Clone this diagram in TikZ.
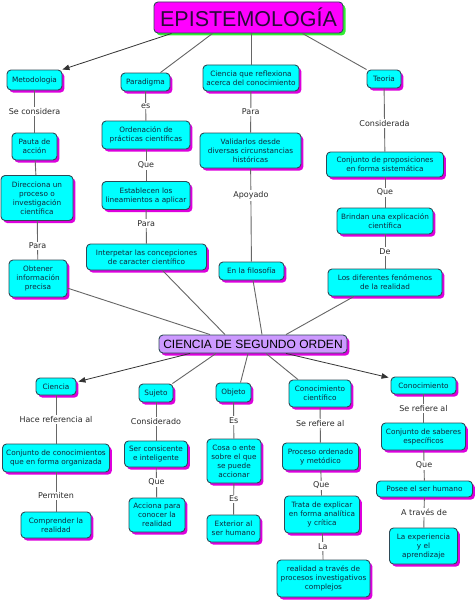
\documentclass[tikz,border=0pt]{standalone}
\usepackage{fontspec}
\setmainfont{DejaVu Sans}
\newfontfamily\headfont{Liberation Sans}
\usetikzlibrary{
  shadows,
  arrows.meta,
}
\definecolor{boxFill}{HTML}{00FFFF}
\definecolor{boxLine}{HTML}{2E4A57}
\definecolor{boxShadow}{HTML}{DD00DD}
\definecolor{boxText}{HTML}{10283C}
\definecolor{headFill}{HTML}{FF00FF}
\definecolor{headShadow}{HTML}{33EE33}
\definecolor{headText}{HTML}{2A0A3A}
\definecolor{orderFill}{HTML}{CC99FF}
\definecolor{lineCol}{HTML}{666666}
\definecolor{arrowCol}{HTML}{333333}
\definecolor{labelCol}{HTML}{2A2A2A}
\tikzset{
  basebox/.style={
    rectangle, rounded corners=4pt, draw=boxLine, fill=boxFill,
    line width=0.9pt, align=center, inner sep=2pt,
    font=\fontsize{7.3}{9}\selectfont, text=boxText,
  },
  conceptbox/.style={
    basebox,
    drop shadow={shadow xshift=2.4pt, shadow yshift=-2.6pt, fill=boxShadow, opacity=1},
  },
  headbox/.style={
    basebox, fill=headFill, text=headText, font=\headfont\fontsize{21.5}{24}\selectfont,
    drop shadow={shadow xshift=2.5pt, shadow yshift=-2.5pt, fill=headShadow, opacity=1},
  },
  orderbox/.style={
    conceptbox, fill=orderFill, text=black, font=\headfont\fontsize{12}{14}\selectfont,
  },
  conn/.style={draw=lineCol, line width=0.9pt},
  arrow/.style={-{Triangle[length=7pt,width=5.5pt]}, arrowCol, line width=0.8pt},
  lbl/.style={fill=white, inner sep=1.2pt, font=\fontsize{8}{9}\selectfont, text=labelCol},
}
\begin{document}
\begin{tikzpicture}[x=1pt, y=-1pt]

  \fill[white] (0,0) rectangle (474,602);
  \useasboundingbox (0,0) rectangle (474,602);

  % Title
  \node[headbox, minimum width=189pt, minimum height=31pt] (epi) at (248.5,17.5) {EPISTEMOLOGÍA};

  % First level
  \node[conceptbox, minimum width=55pt, minimum height=20pt] (meto) at (34.5,80) {Metodologia};
  \node[conceptbox, minimum width=49pt, minimum height=18pt] (para) at (145.5,82) {Paradigma};
  \node[conceptbox, minimum width=96pt, minimum height=26pt] (cien) at (251,78) {Ciencia que reflexiona\\acerca del conocimiento};
  \node[conceptbox, minimum width=34pt, minimum height=18pt] (teor) at (384,79) {Teoria};

  % Metodologia column
  \node[conceptbox, minimum width=45pt, minimum height=27pt] (paut) at (34.5,146.5) {Pauta de\\acción};
  \node[conceptbox, minimum width=72pt, minimum height=45pt] (dire) at (37,198) {Direcciona un\\proceso o\\investigación\\científica};
  \node[conceptbox, minimum width=58pt, minimum height=37pt] (obte) at (38,278.5) {Obtener\\información\\precisa};

  % Paradigma column
  \node[conceptbox, minimum width=88pt, minimum height=28pt] (orde) at (146,135) {Ordenación de\\prácticas científicas};
  \node[conceptbox, minimum width=88pt, minimum height=28pt] (esta) at (146,195.5) {Establecen los\\lineamientos a aplicar};
  \node[conceptbox, minimum width=120pt, minimum height=26pt] (inte) at (146.5,257) {Interpetar las concepciones\\de caracter científico};

  % Ciencia column
  \node[conceptbox, minimum width=101pt, minimum height=35pt] (vali) at (250.5,150.5) {Validarlos desde\\diversas circunstancias\\históricas};
  \node[conceptbox, minimum width=65pt, minimum height=18pt] (filo) at (251.5,271) {En la filosofía};

  % Teoria column
  \node[conceptbox, minimum width=117pt, minimum height=25pt] (conj) at (385,164.5) {Conjunto de proposiciones\\en forma sistemática};
  \node[conceptbox, minimum width=96pt, minimum height=26pt] (brin) at (385,221) {Brindan una explicación\\científica};
  \node[conceptbox, minimum width=114pt, minimum height=27pt] (feno) at (385,282.5) {Los diferentes fenómenos\\de la realidad};

  % Second order
  \node[orderbox, minimum width=188pt, minimum height=18pt] (sego) at (253,344) {CIENCIA DE SEGUNDO ORDEN};

  % Bottom columns
  \node[conceptbox, minimum width=40pt, minimum height=17pt] (cia) at (56,386.5) {Ciencia};
  \node[conceptbox, minimum width=107pt, minimum height=28pt] (cjco) at (56,458) {Conjunto de conocimientos\\que en forma organizada};
  \node[conceptbox, minimum width=70pt, minimum height=26pt] (comp) at (56,525) {Comprender la\\realidad};

  \node[conceptbox, minimum width=34pt, minimum height=18pt] (suje) at (156,393) {Sujeto};
  \node[conceptbox, minimum width=63pt, minimum height=26pt] (seri) at (156,454) {Ser consicente\\e inteligente};
  \node[conceptbox, minimum width=56pt, minimum height=34pt] (acci) at (157,515) {Acciona para\\conocer la\\realidad};

  \node[conceptbox, minimum width=35pt, minimum height=19pt] (obje) at (233.5,392.5) {Objeto};
  \node[conceptbox, minimum width=54pt, minimum height=44pt] (cosa) at (234,461) {Cosa o ente\\sobre el que\\se puede\\accionar};
  \node[conceptbox, minimum width=53pt, minimum height=27pt] (exte) at (233.5,528.5) {Exterior al\\ser humano};

  \node[conceptbox, minimum width=62pt, minimum height=27pt] (ccie) at (320,393.5) {Conocimiento\\científico};
  \node[conceptbox, minimum width=76pt, minimum height=27pt] (proc) at (320.5,456.5) {Proceso ordenado\\y metódico};
  \node[conceptbox, minimum width=75pt, minimum height=37pt] (trat) at (322,514.5) {Trata de explicar\\en forma analítica\\y crítica};
  \node[conceptbox, minimum width=93pt, minimum height=37pt] (real) at (323.5,578.5) {realidad a través de\\procesos investigativos\\complejos};

  \node[conceptbox, minimum width=65pt, minimum height=17pt] (cono) at (423.5,385.5) {Conocimiento};
  \node[conceptbox, minimum width=84pt, minimum height=27pt] (sabe) at (423.5,436.5) {Conjunto de saberes\\específicos};
  \node[conceptbox, minimum width=96pt, minimum height=16pt] (pose) at (424.5,489) {Posee el ser humano};
  \node[conceptbox, minimum width=68pt, minimum height=36pt] (expe) at (423.5,546) {La experiencia\\y el\\aprendizaje};

  % Links from the title
  \draw[arrow] ([xshift=18pt]epi.south west) -- (meto.north east);
  \draw[conn] ([xshift=59pt]epi.south west) -- ([xshift=15pt]para.north);
  \draw[conn] (epi.south -| cien.north) -- (cien.north);
  \draw[conn] ([xshift=-41pt]epi.south east) -- (teor.north west);

  % Vertical links, top half
  \draw[conn] (meto) -- node[lbl] {Se considera} (paut);
  \draw[conn] (paut) -- (dire);
  \draw[conn] (dire) -- node[lbl, pos=0.65] {Para} (obte);
  \draw[conn] (para) -- node[lbl] {es} (orde);
  \draw[conn] (orde) -- node[lbl] {Que} (esta);
  \draw[conn] (esta) -- node[lbl, pos=0.4] {Para} (inte);
  \draw[conn] (cien) -- node[lbl] {Para} (vali);
  \draw[conn] (vali) -- node[lbl, pos=0.29] {Apoyado} (filo);
  \draw[conn] (teor) -- node[lbl, pos=0.56] {Considerada} (conj);
  \draw[conn] (conj) -- node[lbl] {Que} (brin);
  \draw[conn] (brin) -- node[lbl] {De} (feno);

  % Links into the second order node
  \draw[conn] (obte) -- ([xshift=-43pt]sego.north);
  \draw[conn] ([xshift=16pt]inte.south) -- ([xshift=-28pt]sego.north);
  \draw[conn] (filo) -- ([xshift=9pt]sego.north);
  \draw[conn] ([xshift=-31pt]feno.south) -- ([xshift=33pt]sego.north);

  % Links from the second order node
  \draw[arrow] ([xshift=-63pt]sego.south) -- ([xshift=2pt,yshift=-4pt]cia.north east);
  \draw[conn] ([xshift=-37pt]sego.south) -- ([xshift=-1pt]suje.north east);
  \draw[conn] ([xshift=-5pt]sego.south) -- ([xshift=7pt]obje.north);
  \draw[conn] ([xshift=13pt]sego.south) -- ([xshift=-22pt]ccie.north);
  \draw[arrow] ([xshift=33pt]sego.south) -- ([xshift=-2pt,yshift=-1pt]cono.north west);

  % Vertical links, bottom half
  \draw[conn] (cia) -- node[lbl] {Hace referencia al} (cjco);
  \draw[conn] (cjco) -- node[lbl, pos=0.6] {Permiten} (comp);
  \draw[conn] (suje) -- node[lbl] {Considerado} (seri);
  \draw[conn] (seri) -- node[lbl] {Que} (acci);
  \draw[conn] (obje) -- node[lbl] {Es} (cosa);
  \draw[conn] (cosa) -- node[lbl] {Es} (exte);
  \draw[conn] (ccie) -- node[lbl, pos=0.45] {Se refiere al} (proc);
  \draw[conn] (proc) -- node[lbl, pos=0.6] {Que} (trat);
  \draw[conn] (trat) -- node[lbl] {La} (real);
  \draw[conn] (cono) -- node[lbl] {Se refiere al} (sabe);
  \draw[conn] (sabe) -- node[lbl] {Que} (pose);
  \draw[conn] (pose) -- node[lbl] {A través de} (expe);

\end{tikzpicture}
\end{document}
